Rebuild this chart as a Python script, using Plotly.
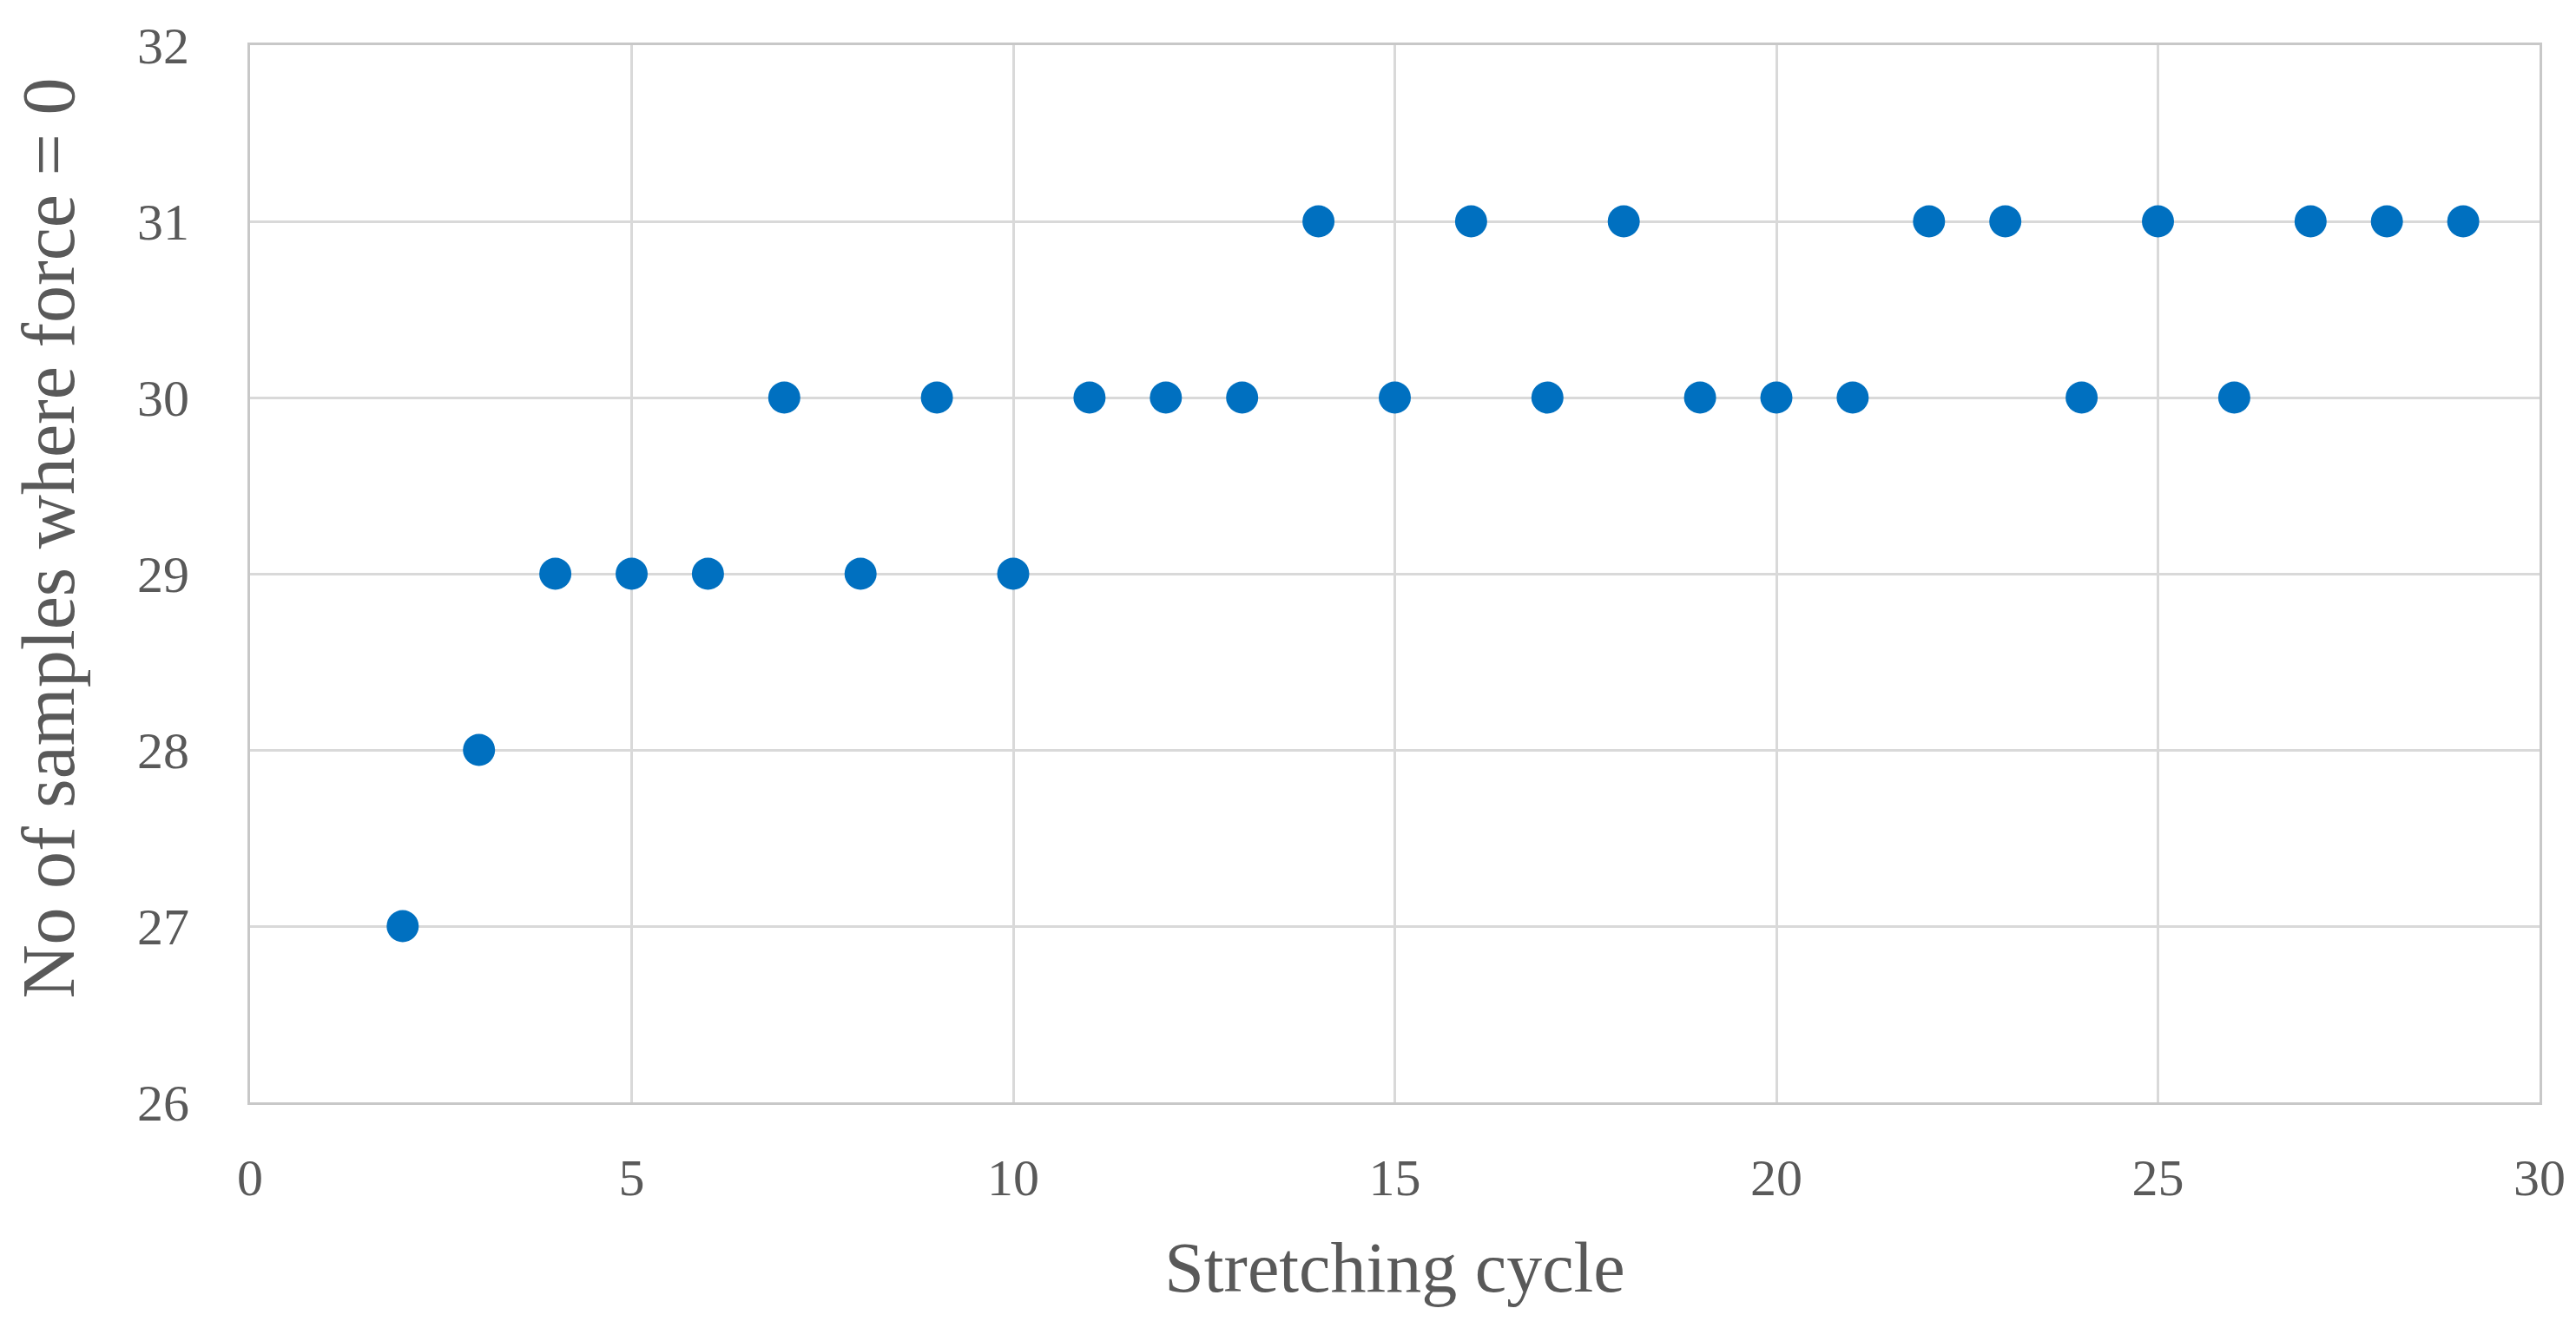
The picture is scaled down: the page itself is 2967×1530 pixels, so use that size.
import plotly.graph_objects as go

cycles = [2, 3, 4, 5, 6, 7, 8, 9, 10, 11, 12, 13, 14, 15, 16, 17, 18, 19, 20, 21, 22, 23, 24, 25, 26, 27, 28, 29]
samples = [27, 28, 29, 29, 29, 30, 29, 30, 29, 30, 30, 30, 31, 30, 31, 30, 31, 30, 30, 30, 31, 31, 30, 31, 30, 31, 31, 31]
x_ticks = [0, 5, 10, 15, 20, 25, 30]
y_ticks = [26, 27, 28, 29, 30, 31, 32]
x_title = "Stretching cycle"
y_title = "No of samples where force = 0"

FONT = "Liberation Serif"
TXT = "#595959"
GRID = "#D9D9D9"

fig = go.Figure(go.Scatter(
    x=cycles, y=samples, mode="markers",
    marker=dict(color="#0070C0", size=37, line=dict(width=0)),
    showlegend=False,
))

fig.update_layout(
    width=2967, height=1530,
    paper_bgcolor="white", plot_bgcolor="white",
    margin=dict(l=280, r=50, t=39, b=268),
    font=dict(family=FONT, color=TXT),
    annotations=[dict(
        text=y_title, textangle=-90, xref="paper", yref="paper",
        x=-0.088, y=0.534, xanchor="center", yanchor="middle", showarrow=False,
        font=dict(size=86, family=FONT, color=TXT),
    )],
)
fig.update_xaxes(
    range=[0, 30], tickvals=x_ticks, ticks="", showgrid=True,
    gridcolor=GRID, gridwidth=3, showline=True, linecolor="#C8C8C8", linewidth=3, mirror=True,
    zeroline=False, tickfont=dict(size=60, family=FONT, color=TXT), ticklabelstandoff=32,
    title=dict(text=x_title, font=dict(size=82, family=FONT, color=TXT), standoff=42),
)
fig.update_yaxes(
    range=[26, 32], tickvals=y_ticks, ticks="", showgrid=True,
    gridcolor=GRID, gridwidth=3, showline=True, linecolor="#C8C8C8", linewidth=3, mirror=True,
    zeroline=False, tickfont=dict(size=60, family=FONT, color=TXT), ticklabelstandoff=55,
)

fig.write_html("out.html")
